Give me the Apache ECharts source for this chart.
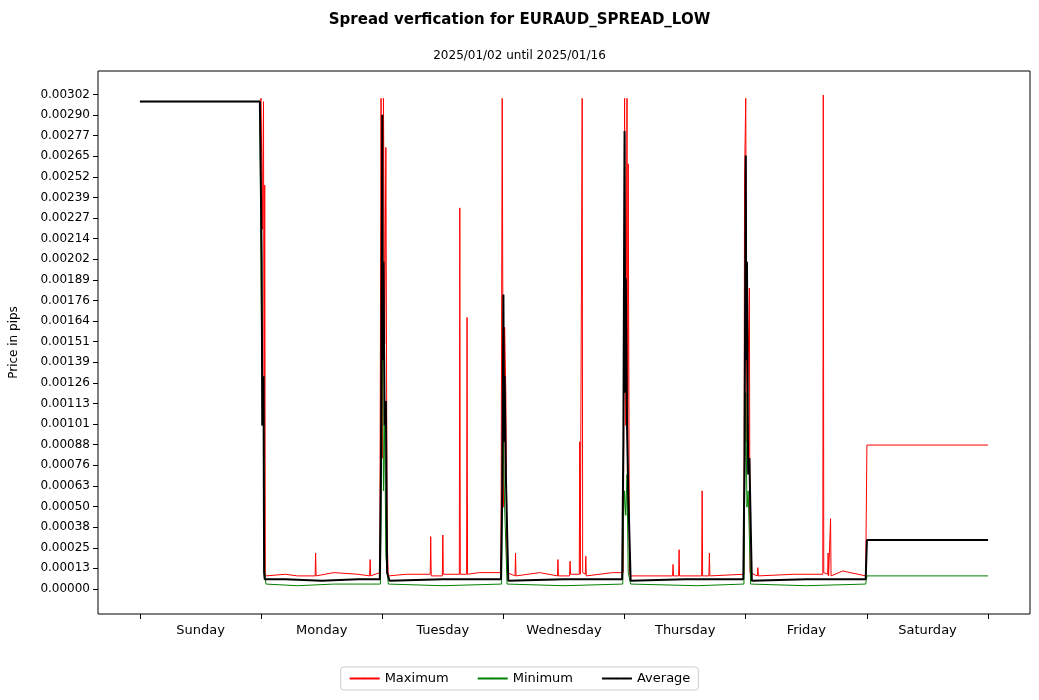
<!DOCTYPE html>
<html><head><meta charset="utf-8">
<script src="https://cdn.jsdelivr.net/npm/echarts@6/dist/echarts.min.js"></script>
<style>html,body{margin:0;background:#fff}#c{width:1039px;height:700px}</style>
</head><body><div id="c"></div>
<script>
// x in days from start of Sunday
var days = ['Sunday', 'Monday', 'Tuesday', 'Wednesday', 'Thursday', 'Friday', 'Saturday'];
var yStep = 0.000126;

var maxX = [0,0.99,1.0,1.01,1.02,1.025,1.03,1.035,1.04,1.2,1.3,1.446,1.45,1.454,1.6,1.8,1.896,1.9,1.904,1.98,1.99,2.0,2.01,2.02,2.03,2.04,2.05,2.2,2.396,2.4,2.404,2.496,2.5,2.504,2.636,2.64,2.644,2.696,2.7,2.704,2.8,2.975,2.98,2.99,3.0,3.01,3.02,3.03,3.096,3.1,3.104,3.3,3.446,3.45,3.454,3.546,3.55,3.554,3.626,3.63,3.634,3.646,3.65,3.654,3.676,3.68,3.684,3.9,3.99,4.0,4.01,4.02,4.025,4.03,4.04,4.05,4.396,4.4,4.404,4.446,4.45,4.454,4.636,4.64,4.644,4.696,4.7,4.704,4.985,4.99,5.0,5.01,5.03,5.035,5.096,5.1,5.104,5.4,5.636,5.64,5.644,5.676,5.68,5.684,5.696,5.7,5.704,5.8,5.99,6.0,7.0];
var maxY = [0.00298,0.00298,0.00300,0.00220,0.00298,0.00080,0.00247,0.00010,0.00008,0.00009,0.00008,0.00008,0.00022,0.00008,0.00010,0.00009,0.00008,0.00018,0.00008,0.00010,0.00300,0.00080,0.00300,0.00150,0.00270,0.00030,0.00008,0.00009,0.00009,0.00032,0.00008,0.00008,0.00033,0.00009,0.00009,0.00233,0.00009,0.00009,0.00166,0.00009,0.00010,0.00010,0.00024,0.00300,0.00050,0.00160,0.00120,0.00010,0.00008,0.00022,0.00008,0.00010,0.00008,0.00018,0.00008,0.00008,0.00017,0.00009,0.00009,0.00090,0.00009,0.00009,0.00300,0.00010,0.00009,0.00020,0.00008,0.00010,0.00010,0.00300,0.00100,0.00300,0.00050,0.00260,0.00010,0.00008,0.00008,0.00015,0.00008,0.00008,0.00024,0.00008,0.00008,0.00060,0.00008,0.00008,0.00022,0.00008,0.00009,0.00250,0.00300,0.00090,0.00184,0.00010,0.00008,0.00013,0.00008,0.00009,0.00009,0.00302,0.00010,0.00009,0.00022,0.00008,0.00008,0.00043,0.00008,0.00011,0.00008,0.00088,0.00088];

var minX = [0,0.99,1.0,1.01,1.02,1.03,1.04,1.3,1.6,1.985,1.99,2.0,2.01,2.02,2.03,2.05,2.5,2.985,2.99,3.0,3.01,3.03,3.5,3.985,3.99,4.0,4.01,4.02,4.03,4.05,4.6,4.985,4.99,5.0,5.01,5.02,5.04,5.5,5.99,6.0,7.0];
var minY = [0.00298,0.00298,0.00190,0.00100,0.00120,0.00010,0.00003,0.00002,0.00003,0.00003,0.00040,0.00200,0.00060,0.00100,0.00020,0.00003,0.00002,0.00003,0.00050,0.00090,0.00050,0.00003,0.00002,0.00003,0.00040,0.00060,0.00045,0.00070,0.00010,0.00003,0.00002,0.00003,0.00050,0.00120,0.00050,0.00060,0.00003,0.00002,0.00003,0.00008,0.00008];

var avgX = [0,0.99,1.0,1.005,1.01,1.02,1.025,1.03,1.04,1.2,1.5,1.8,1.98,1.99,2.0,2.005,2.01,2.02,2.03,2.04,2.06,2.5,2.98,2.99,3.0,3.005,3.01,3.02,3.04,3.5,3.98,3.99,4.0,4.005,4.01,4.02,4.03,4.05,4.5,4.98,4.99,5.0,5.005,5.01,5.02,5.03,5.05,5.5,5.99,6.0,7.0];
var avgY = [0.00298,0.00298,0.00235,0.00200,0.00100,0.00130,0.00010,0.00006,0.00005,0.00006,0.00005,0.00006,0.00006,0.00080,0.00290,0.00140,0.00200,0.00100,0.00115,0.00010,0.00005,0.00006,0.00006,0.00060,0.00180,0.00090,0.00130,0.00070,0.00005,0.00006,0.00006,0.00090,0.00280,0.00120,0.00190,0.00100,0.00060,0.00005,0.00006,0.00006,0.00080,0.00265,0.00140,0.00200,0.00070,0.00080,0.00005,0.00006,0.00006,0.00030,0.00030];

function zip(xs, ys) { return xs.map(function (x, i) { return [x, ys[i]]; }); }
var yTicks = [];
for (var k = 0; k <= 24; k++) yTicks.push(k * yStep);

var chart = echarts.init(document.getElementById('c'));
chart.setOption({
  textStyle: { fontFamily: 'DejaVu Sans' },
  animation: false,
  title: [
    { text: 'Spread verfication for EURAUD_SPREAD_LOW', left: 'center', top: 8,
      textStyle: { fontSize: 15, fontWeight: 'bold', color: '#000' } },
    { text: '2025/01/02 until 2025/01/16', left: 'center', top: 45,
      textStyle: { fontSize: 12, fontWeight: 'normal', color: '#000' } }
  ],
  legend: {
    bottom: 10, left: 'center', itemWidth: 30, itemHeight: 2, itemGap: 28,
    borderColor: '#ccc', borderWidth: 1, borderRadius: 3, padding: [5, 8],
    textStyle: { fontSize: 13, color: '#000' },
    data: ['Maximum', 'Minimum', 'Average']
  },
  grid: { left: 97, right: 9, top: 71, bottom: 86, show: true, borderColor: '#000', borderWidth: 1 },
  xAxis: {
    type: 'value', min: -0.346, max: 7.346,
    splitLine: { show: false },
    axisLine: { show: false, onZero: false },
    axisTick: { show: true, customValues: [0, 1, 2, 3, 4, 5, 6, 7], lineStyle: { color: '#000' } },
    axisLabel: { customValues: [0.5, 1.5, 2.5, 3.5, 4.5, 5.5, 6.5], color: '#000', fontSize: 13, margin: 10,
      formatter: function (v) { return days[Math.floor(v)]; } }
  },
  yAxis: {
    type: 'value', min: -0.000153, max: 0.003167,
    name: 'Price in pips', nameLocation: 'middle', nameGap: 78, nameTextStyle: { color: '#000', fontSize: 12 },
    splitLine: { show: false },
    axisLine: { show: false, onZero: false },
    axisTick: { show: true, customValues: yTicks, lineStyle: { color: '#000' } },
    axisLabel: { customValues: yTicks, color: '#000', fontSize: 12,
      formatter: function (v) { return v.toFixed(5); } }
  },
  series: [
    { name: 'Maximum', type: 'line', data: zip(maxX, maxY), showSymbol: false, symbol: 'none',
      color: '#ff0000', lineStyle: { width: 1 } },
    { name: 'Minimum', type: 'line', data: zip(minX, minY), showSymbol: false, symbol: 'none',
      color: '#008000', lineStyle: { width: 1 } },
    { name: 'Average', type: 'line', data: zip(avgX, avgY), showSymbol: false, symbol: 'none',
      color: '#000000', lineStyle: { width: 2 } }
  ]
});
</script></body></html>
